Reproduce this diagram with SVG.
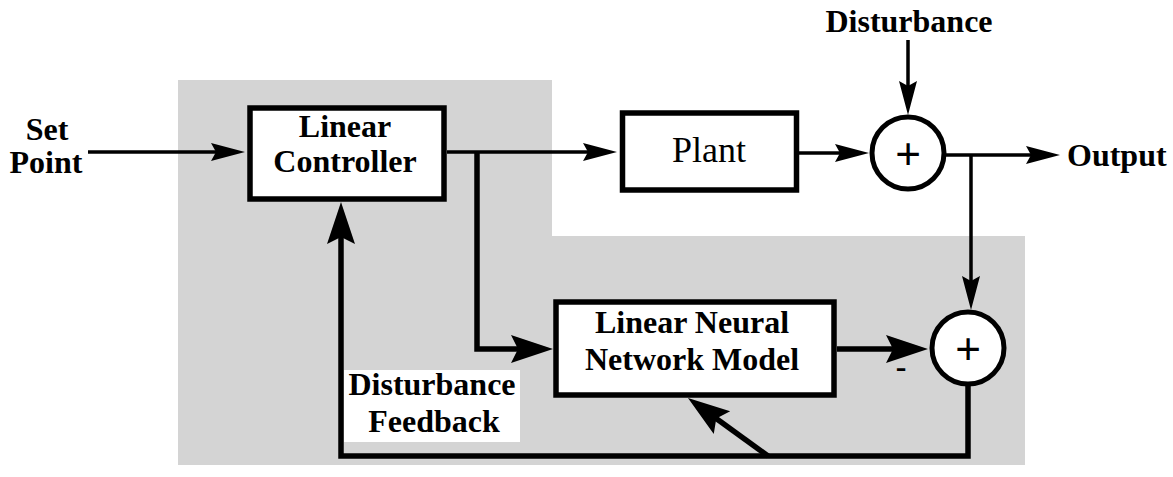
<svg xmlns="http://www.w3.org/2000/svg" width="1173" height="477" viewBox="0 0 1173 477">
<style>
.lbl{font-family:"Liberation Serif","Times New Roman",serif;font-weight:bold;font-size:32px;fill:#000;text-anchor:middle}
.plain{font-family:"Liberation Serif","Times New Roman",serif;font-size:36px;fill:#000;text-anchor:middle}
.box{fill:#fff;stroke:#000;stroke-width:5.5}
.sum{fill:#fff;stroke:#000;stroke-width:5}
.thin{fill:none;stroke:#000;stroke-width:3.5}
.thick{fill:none;stroke:#000;stroke-width:5.5}
.plus{font-family:"Liberation Sans",Arial,sans-serif;font-size:44px;fill:#000;text-anchor:middle}
</style>
<defs>
<marker id="ah" markerUnits="userSpaceOnUse" markerWidth="36" markerHeight="20" viewBox="0 0 36 20" refX="24" refY="10" orient="auto"><path d="M0,1 L34,10 L0,19 L5,10 z" fill="#000"/></marker>
<marker id="ahT" markerUnits="userSpaceOnUse" markerWidth="44" markerHeight="30" viewBox="0 0 44 30" refX="28" refY="15" orient="auto"><path d="M0,1 L42,15 L0,29 L7,15 z" fill="#000"/></marker>
</defs>
<path id="shade" d="M178,80 H552 V236 H1025 V465 H178 Z" fill="#d4d4d4"/>
<g id="connectors">
<path class="thin" d="M88,152 H235" marker-end="url(#ah)"/>
<path class="thin" d="M447,152 H607" marker-end="url(#ah)"/>
<path class="thin" d="M799,153 H859" marker-end="url(#ah)"/>
<path class="thin" d="M908,40 V105" marker-end="url(#ah)"/>
<path class="thin" d="M946,155 H1050" marker-end="url(#ah)"/>
<path class="thin" d="M971,155 V300" marker-end="url(#ah)"/>
<path class="thick" d="M477,152 V349 H539" marker-end="url(#ahT)"/>
<path class="thick" d="M837,349 H914" marker-end="url(#ahT)"/>
<path class="thick" d="M968,384 V456 H341 V216" marker-end="url(#ahT)"/>
<path class="thick" d="M768,456 L699.3,406.2" marker-end="url(#ahT)"/>
</g>
<g id="setpoint"><text class="lbl" x="47" y="140">Set</text><text class="lbl" x="46" y="173">Point</text></g>
<g id="controller"><rect class="box" x="250" y="108" width="194" height="91"/><text class="lbl" x="345" y="137">Linear</text><text class="lbl" x="345" y="172">Controller</text></g>
<g id="plant"><rect class="box" x="622.5" y="113" width="174" height="77"/><text class="plain" x="709" y="162">Plant</text></g>
<g id="disturbance"><text class="lbl" x="909" y="32">Disturbance</text></g>
<g id="sum1"><circle class="sum" cx="908" cy="153" r="36"/><text class="plus" x="908" y="169">+</text></g>
<g id="output"><text class="lbl" x="1067" y="166" style="text-anchor:start">Output</text></g>
<g id="nnmodel"><rect class="box" x="556" y="302" width="278" height="93"/><text class="lbl" x="692" y="333">Linear Neural</text><text class="lbl" x="692" y="370">Network Model</text></g>
<g id="sum2"><circle class="sum" cx="968" cy="348" r="36"/><text class="plus" x="968" y="364">+</text></g>
<g id="minus"><text class="lbl" x="901" y="377">-</text></g>
<g id="feedbacklabel"><rect x="344" y="370" width="176" height="72" fill="#fff"/><text class="lbl" x="432" y="395">Disturbance</text><text class="lbl" x="434" y="432">Feedback</text></g>
</svg>
